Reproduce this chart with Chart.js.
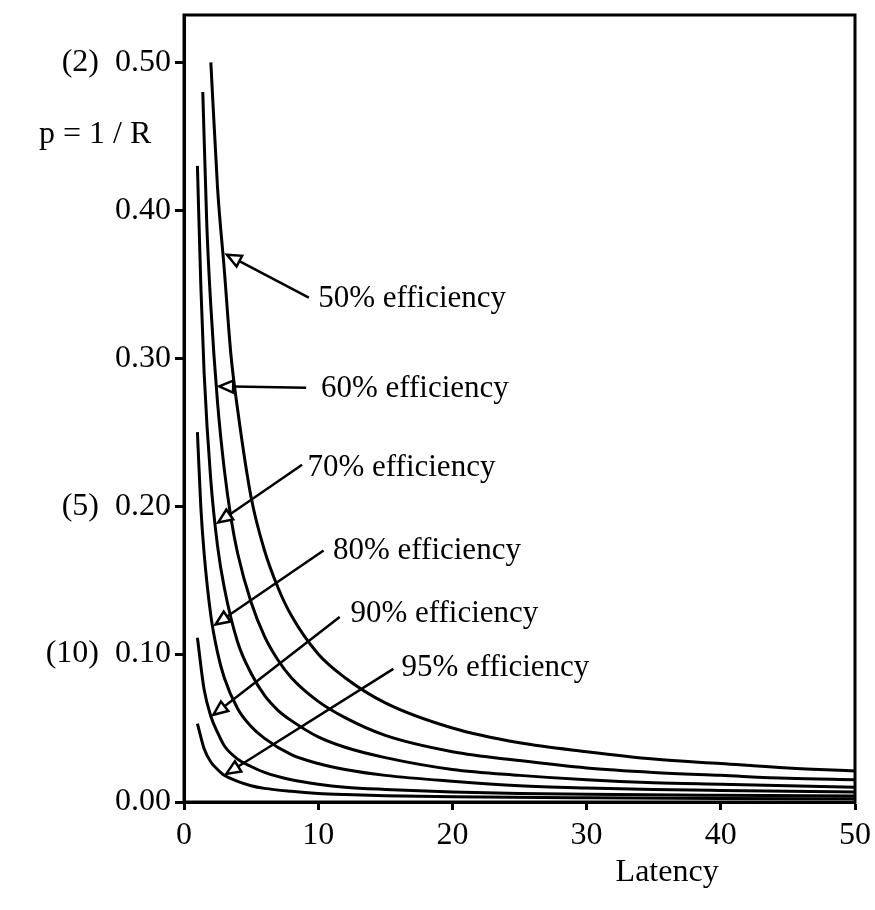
<!DOCTYPE html>
<html lang="en">
<head>
    <meta charset="UTF-8">
    <title>Latency vs p</title>
    <script src="https://cdn.jsdelivr.net/npm/chart.js@4.4.0/dist/chart.umd.min.js"></script>
    <style>
        body { margin: 0; background: #fff; }
    </style>
</head>
<body>

    <canvas id="myChart" width="875" height="910"></canvas>

    <script>
// curve values (latency -> p)
const lat50 = [2, 2.5, 3, 3.5, 4, 5, 6, 7, 8, 10, 12, 15, 20, 25, 30, 35, 40, 45, 50];
const p50 = [0.500, 0.415, 0.360, 0.302, 0.265, 0.206, 0.170, 0.145, 0.126, 0.100, 0.084, 0.067, 0.050, 0.040, 0.034, 0.029, 0.026, 0.023, 0.021];

const lat60 = [1.4, 1.7, 2, 2.5, 3, 3.5, 4, 5, 6, 7, 8, 10, 12, 15, 20, 25, 30, 35, 40, 45, 50];
const p60 = [0.480, 0.390, 0.335, 0.270, 0.225, 0.192, 0.168, 0.135, 0.112, 0.096, 0.084, 0.068, 0.057, 0.045, 0.034, 0.028, 0.023, 0.020, 0.018, 0.016, 0.015];

const lat70 = [1, 1.25, 1.5, 2, 2.5, 3, 4, 5, 6, 7, 8, 10, 12, 15, 20, 25, 30, 35, 40, 45, 50];
const p70 = [0.430, 0.350, 0.290, 0.217, 0.173, 0.145, 0.108, 0.087, 0.072, 0.062, 0.055, 0.044, 0.037, 0.030, 0.022, 0.018, 0.015, 0.013, 0.012, 0.011, 0.010];

const lat80 = [1, 1.25, 1.5, 2, 2.5, 3, 4, 5, 6, 8, 10, 12, 15, 20, 25, 30, 35, 40, 45, 50];
const p80 = [0.250, 0.200, 0.168, 0.126, 0.101, 0.084, 0.063, 0.051, 0.043, 0.032, 0.026, 0.022, 0.018, 0.014, 0.011, 0.0095, 0.0085, 0.0078, 0.0072, 0.0068];

const lat90 = [1, 1.5, 2, 2.5, 3, 4, 5, 6, 8, 10, 12, 15, 20, 25, 30, 40, 50];
const p90 = [0.111, 0.076, 0.058, 0.047, 0.038, 0.029, 0.024, 0.020, 0.015, 0.012, 0.010, 0.0085, 0.0068, 0.0058, 0.0052, 0.0045, 0.0040];

const lat95 = [1, 1.5, 2, 2.5, 3, 4, 5, 6, 8, 10, 12, 15, 20, 30, 40, 50];
const p95 = [0.053, 0.036, 0.027, 0.022, 0.018, 0.014, 0.011, 0.0092, 0.0072, 0.0058, 0.0050, 0.0042, 0.0035, 0.0028, 0.0024, 0.0022];

const seriesNames = ['50% efficiency', '60% efficiency', '70% efficiency', '80% efficiency', '90% efficiency', '95% efficiency'];
const seriesLat = [lat50, lat60, lat70, lat80, lat90, lat95];
const seriesP = [p50, p60, p70, p80, p90, p95];

// axis ticks
const xTickValues = [0, 10, 20, 30, 40, 50];
const xTickLabels = ['0', '10', '20', '30', '40', '50'];
const yTickValues = [0, 0.1, 0.2, 0.3, 0.4, 0.5];
const yTickLabels = ['0.00', '(10)  0.10', '(5)  0.20', '0.30', '0.40', '(2)  0.50'];

//======================================================
// label + arrow placement, in data units (text left/middle, arrow tail, arrow tip)
const notes = [
    { at: [10.0, 0.340], from: [9.3, 0.341], to: [3.2, 0.370] },
    { at: [10.2, 0.279], from: [9.1, 0.280], to: [2.62, 0.281] },
    { at: [9.2, 0.226], from: [8.8, 0.228], to: [2.55, 0.189] },
    { at: [11.1, 0.170], from: [10.4, 0.170], to: [2.35, 0.120] },
    { at: [12.4, 0.127], from: [11.6, 0.125], to: [2.2, 0.059] },
    { at: [16.2, 0.091], from: [15.6, 0.090], to: [3.15, 0.019] }
];

const serif = '"Liberation Serif", "Times New Roman", serif';

function drawArrow(ctx, x1, y1, x2, y2) {
    const ang = Math.atan2(y2 - y1, x2 - x1);
    const len = 14, w = 6;
    const bx = x2 - len * Math.cos(ang), by = y2 - len * Math.sin(ang);
    ctx.beginPath();
    ctx.moveTo(x1, y1);
    ctx.lineTo(bx, by);
    ctx.lineWidth = 2.5;
    ctx.stroke();
    ctx.beginPath();
    ctx.moveTo(x2, y2);
    ctx.lineTo(bx - w * Math.sin(ang), by + w * Math.cos(ang));
    ctx.lineTo(bx + w * Math.sin(ang), by - w * Math.cos(ang));
    ctx.closePath();
    ctx.fillStyle = '#fff';
    ctx.fill();
    ctx.lineWidth = 2.5;
    ctx.stroke();
}

const extras = {
    id: 'extras',
    afterDatasetsDraw(chart) {
        const { ctx, chartArea: a, scales: { x, y } } = chart;
        ctx.save();
        ctx.strokeStyle = '#000';
        ctx.lineWidth = 3;
        ctx.strokeRect(a.left, a.top, a.right - a.left, a.bottom - a.top);

        ctx.font = '31px ' + serif;
        ctx.textBaseline = 'middle';
        notes.forEach((n, i) => {
            drawArrow(ctx, x.getPixelForValue(n.from[0]), y.getPixelForValue(n.from[1]),
                x.getPixelForValue(n.to[0]), y.getPixelForValue(n.to[1]));
            ctx.fillStyle = '#000';
            ctx.textAlign = 'left';
            ctx.fillText(seriesNames[i], x.getPixelForValue(n.at[0]), y.getPixelForValue(n.at[1]));
        });

        // axis names
        ctx.fillStyle = '#000';
        ctx.textAlign = 'left';
        ctx.font = '32px ' + serif;
        ctx.fillText('p = 1 / R', a.left - 145, y.getPixelForValue(0.451));
        ctx.textAlign = 'center';
        ctx.fillText('Latency', x.getPixelForValue(36), a.bottom + 71);
        ctx.restore();
    }
};

const datasets = seriesNames.map((name, i) => ({
    label: name,
    data: seriesLat[i].map((l, j) => ({ x: l, y: seriesP[i][j] })),
    borderColor: '#000',
    borderWidth: 3,
    pointRadius: 0,
    fill: false,
    cubicInterpolationMode: 'monotone'
}));

const ctx = document.getElementById('myChart').getContext('2d');

const myChart = new Chart(ctx, {
    type: 'line',
    data: { datasets: datasets },
    options: {
        responsive: false,
        animation: false,
        layout: { padding: { top: 15, right: 20, left: 0, bottom: 0 } },
        plugins: {
            legend: { display: false },
            tooltip: { enabled: false }
        },
        scales: {
            x: {
                type: 'linear',
                min: 0,
                max: 50,
                afterFit: s => { s.height = 108; s.paddingLeft = 0; s.paddingRight = 0; },
                afterBuildTicks: s => { s.ticks = xTickValues.map(v => ({ value: v })); },
                border: { display: true, color: '#000', width: 3 },
                grid: { drawOnChartArea: false, drawTicks: true, tickLength: 8, tickWidth: 3, tickColor: '#000' },
                ticks: {
                    color: '#000',
                    padding: 6,
                    maxRotation: 0,
                    font: { family: serif, size: 32 },
                    callback: v => xTickLabels[xTickValues.indexOf(v)]
                }
            },
            y: {
                type: 'linear',
                min: 0,
                max: 0.532,
                afterFit: s => { s.width = 184; s.paddingTop = 0; s.paddingBottom = 0; },
                afterBuildTicks: s => { s.ticks = yTickValues.map(v => ({ value: v })); },
                border: { display: true, color: '#000', width: 3 },
                grid: { drawOnChartArea: false, drawTicks: true, tickLength: 9, tickWidth: 3, tickColor: '#000' },
                ticks: {
                    color: '#000',
                    padding: 4,
                    font: { family: serif, size: 32 },
                    callback: v => yTickLabels[yTickValues.indexOf(v)]
                }
            }
        }
    },
    plugins: [extras]
});
    </script>
</body>
</html>
